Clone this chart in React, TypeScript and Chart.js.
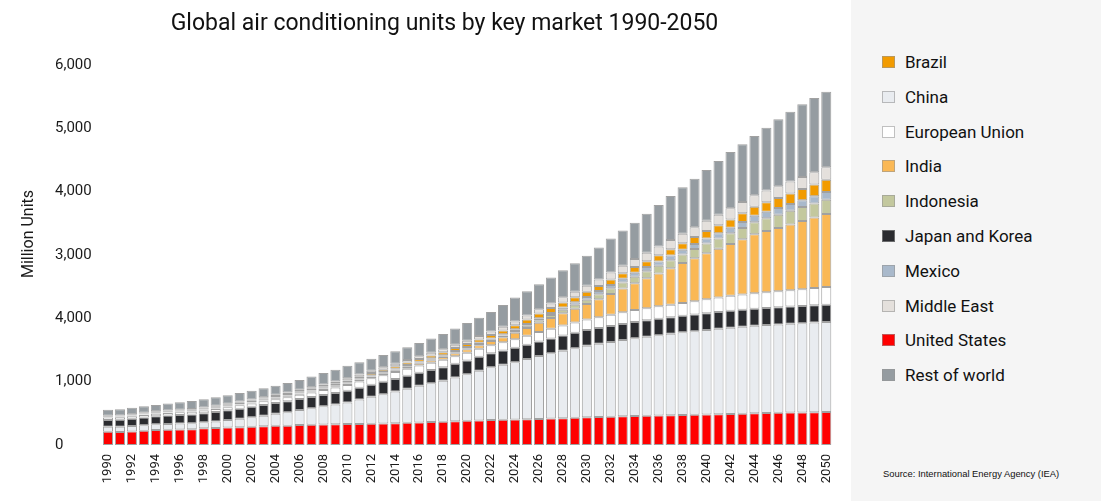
import React, { useEffect, useRef } from 'react';
import { Chart, registerables } from 'chart.js';

Chart.register(...registerables);

const chartTitle = 'Global air conditioning units by key market 1990-2050';
const yAxisTitle = 'Million Units';
const sourceText = 'Source: International Energy Agency (IEA)';

const years = [
  '1990', '1991', '1992', '1993', '1994', '1995', '1996', '1997', '1998', '1999',
  '2000', '2001', '2002', '2003', '2004', '2005', '2006', '2007', '2008', '2009',
  '2010', '2011', '2012', '2013', '2014', '2015', '2016', '2017', '2018', '2019',
  '2020', '2021', '2022', '2023', '2024', '2025', '2026', '2027', '2028', '2029',
  '2030', '2031', '2032', '2033', '2034', '2035', '2036', '2037', '2038', '2039',
  '2040', '2041', '2042', '2043', '2044', '2045', '2046', '2047', '2048', '2049',
  '2050',
];

const yTickLabels = ['0', '1,000', '4,000', '3,000', '4,000', '5,000', '6,000'];

const unitedStates = [
  210, 205, 215, 225, 237, 240, 245, 250, 264, 268,
  275, 282, 289, 295, 302, 305, 316, 318, 322, 326,
  330, 333, 337, 340, 343, 350, 356, 362, 368, 375,
  382, 388, 395, 398, 402, 406, 411, 418, 424, 430,
  437, 442, 447, 452, 458, 462, 466, 470, 474, 478,
  482, 486, 490, 495, 500, 505, 510, 512, 515, 518,
  520,
];
const china = [
  80, 82, 85, 88, 90, 92, 93, 94, 95, 105,
  118, 132, 148, 168, 190, 212, 237, 262, 288, 315,
  343, 385, 426, 463, 500, 540, 578, 612, 645, 690,
  735, 785, 832, 868, 905, 950, 995, 1030, 1065, 1098,
  1130, 1155, 1180, 1204, 1227, 1248, 1268, 1288, 1306, 1320,
  1334, 1348, 1362, 1372, 1382, 1388, 1394, 1402, 1408, 1415,
  1422,
];
const japanKorea = [
  105, 110, 115, 122, 128, 132, 135, 138, 142, 148,
  155, 160, 165, 168, 170, 172, 174, 176, 178, 180,
  183, 186, 190, 194, 198, 202, 206, 210, 214, 217,
  219, 221, 223, 225, 227, 228, 230, 235, 240, 244,
  248, 250, 252, 255, 257, 258, 259, 260, 262, 263,
  264, 265, 266, 267, 268, 269, 270, 271, 272, 273,
  274,
];
const europeanUnion = [
  40, 40, 40, 40, 40, 42, 43, 44, 45, 48,
  50, 52, 55, 58, 62, 65, 68, 74, 80, 87,
  93, 98, 102, 106, 110, 112, 114, 116, 118, 120,
  122, 124, 126, 131, 137, 142, 148, 152, 157, 161,
  165, 171, 177, 184, 190, 193, 196, 198, 200, 210,
  220, 230, 240, 244, 248, 250, 252, 258, 264, 271,
  279,
];
const india = [
  3, 3, 4, 4, 5, 5, 6, 6, 7, 8,
  9, 10, 11, 12, 13, 14, 15, 16, 18, 20,
  22, 24, 26, 28, 30, 33, 36, 40, 44, 48,
  52, 58, 65, 80, 100, 122, 145, 170, 195, 220,
  245, 285, 330, 375, 420, 470, 520, 575, 630, 678,
  726, 770, 816, 870, 930, 968, 1001, 1040, 1078, 1115,
  1153,
];
const indonesia = [
  2, 2, 2, 2, 3, 3, 3, 3, 4, 4,
  4, 5, 5, 5, 6, 6, 6, 7, 7, 8,
  8, 9, 9, 10, 10, 11, 12, 13, 14, 16,
  18, 20, 22, 26, 30, 35, 40, 47, 55, 62,
  70, 79, 88, 96, 105, 112, 120, 128, 135, 145,
  155, 162, 170, 180, 190, 200, 210, 215, 220, 223,
  226,
];
const mexico = [
  4, 4, 4, 5, 5, 5, 5, 6, 6, 6,
  7, 7, 7, 8, 8, 8, 9, 9, 10, 10,
  11, 11, 12, 12, 13, 14, 14, 15, 16, 17,
  18, 19, 20, 22, 25, 28, 31, 34, 37, 40,
  43, 48, 53, 58, 63, 66, 69, 72, 75, 78,
  81, 84, 88, 94, 100, 102, 104, 106, 108, 114,
  121,
];
const brazil = [
  8, 9, 10, 11, 12, 13, 14, 15, 16, 17,
  18, 19, 20, 21, 22, 23, 24, 25, 26, 28,
  30, 32, 34, 36, 38, 40, 42, 44, 46, 48,
  50, 52, 54, 59, 64, 69, 75, 76, 77, 78,
  80, 82, 85, 87, 90, 94, 97, 101, 105, 111,
  117, 123, 130, 137, 144, 152, 160, 168, 177, 186,
  195,
];
const middleEast = [
  10, 10, 11, 11, 12, 12, 13, 14, 15, 16,
  17, 18, 19, 20, 22, 23, 25, 26, 28, 30,
  32, 34, 36, 38, 40, 42, 44, 46, 48, 50,
  52, 53, 55, 58, 61, 64, 67, 74, 81, 88,
  95, 103, 110, 118, 125, 131, 138, 144, 150, 156,
  162, 168, 175, 178, 180, 183, 185, 188, 190, 193,
  195,
];
const restOfWorld = [
  93, 100, 104, 102, 100, 111, 118, 125, 128, 132,
  132, 135, 138, 140, 140, 150, 152, 167, 178, 186,
  198, 193, 188, 193, 198, 201, 208, 222, 239, 259,
  279, 290, 308, 343, 379, 385, 395, 410, 430, 450,
  475, 505, 538, 556, 575, 616, 657, 694, 733, 766,
  801, 849, 890, 913, 937, 993, 1059, 1100, 1148, 1172,
  1192,
];

// stack order, bottom to top
const seriesNames = [
  'United States', 'China', 'Japan and Korea', 'European Union', 'India',
  'Indonesia', 'Mexico', 'Brazil', 'Middle East', 'Rest of world',
];
const seriesData = [
  unitedStates, china, japanKorea, europeanUnion, india,
  indonesia, mexico, brazil, middleEast, restOfWorld,
];
const seriesColors = [
  '#ff0000', '#e9ecf0', '#2a2b2f', '#ffffff', '#fab855',
  '#c3c89e', '#a9b9cb', '#f29b00', '#e4e0dc', '#959ca1',
];

const legendOrder = [
  'Brazil', 'China', 'European Union', 'India', 'Indonesia',
  'Japan and Korea', 'Mexico', 'Middle East', 'United States', 'Rest of world',
];

const FONT = 'Roboto, "Liberation Sans", sans-serif';

const yTitlePlugin = {
  id: 'yTitleCustom',
  afterDraw(chart: any) {
    const ctx = chart.ctx;
    ctx.save();
    ctx.translate(29, 234);
    ctx.rotate(-Math.PI / 2);
    ctx.font = '16px ' + FONT;
    ctx.fillStyle = '#1a1a1a';
    ctx.textAlign = 'center';
    ctx.textBaseline = 'middle';
    ctx.fillText(yAxisTitle, 0, 0);
    ctx.restore();
  },
};

export default function App() {
  const canvasRef = useRef<HTMLCanvasElement | null>(null);

  useEffect(() => {
    if (!canvasRef.current) return;
    const chart = new Chart(canvasRef.current, {
      type: 'bar',
      data: {
        labels: years,
        datasets: seriesNames.map((name, i) => ({
          label: name,
          data: seriesData[i],
          backgroundColor: seriesColors[i],
          borderColor: 'rgba(130,130,130,0.75)',
          borderWidth: 1,
          borderSkipped: false,
          categoryPercentage: 1,
          barPercentage: 0.84,
          stack: 'total',
        })),
      },
      options: {
        responsive: false,
        animation: false,
        devicePixelRatio: 1,
        layout: { padding: { left: 55, right: 17, top: 0, bottom: 0 } },
        plugins: {
          legend: { display: false },
          tooltip: { enabled: false },
          title: {
            display: true,
            text: chartTitle,
            color: '#111',
            font: { family: FONT, size: 23, weight: 'normal' },
            padding: { top: 10.2, bottom: 27.2 },
          },
        },
        scales: {
          x: {
            stacked: true,
            grid: { display: false, drawTicks: false },
            border: { display: false },
            ticks: {
              autoSkip: false,
              maxRotation: 90,
              minRotation: 90,
              padding: 9,
              color: '#1a1a1a',
              font: { family: FONT, size: 13 },
              callback: (_v: any, idx: number) => (idx % 2 === 0 ? years[idx] : ''),
            },
            afterFit: (scale: any) => {
              scale.height = 56;
            },
          },
          y: {
            stacked: true,
            min: 0,
            max: 6000,
            grid: { display: false, drawTicks: false },
            border: { display: false },
            ticks: {
              stepSize: 1000,
              crossAlign: 'far',
              padding: 0,
              color: '#1a1a1a',
              font: { family: FONT, size: 15 },
              callback: (v: any) => yTickLabels[Math.round(Number(v) / 1000)],
            },
            afterFit: (scale: any) => {
              scale.width = 47;
            },
          },
        },
      },
      plugins: [yTitlePlugin],
    } as any);
    return () => chart.destroy();
  }, []);

  const colorOf = (name: string) => seriesColors[seriesNames.indexOf(name)];

  return (
    <div
      style={{
        position: 'fixed',
        left: 0,
        top: 0,
        width: 1101,
        height: 501,
        background: '#ffffff',
        overflow: 'hidden',
      }}
    >
      <canvas
        ref={canvasRef}
        width={851}
        height={501}
        style={{ position: 'absolute', left: 0, top: 0, width: 851, height: 501 }}
      />
      <div
        style={{
          position: 'absolute',
          left: 851,
          top: 0,
          width: 250,
          height: 501,
          background: '#f5f5f5',
          fontFamily: FONT,
        }}
      >
        <div style={{ position: 'absolute', left: 31, top: 44.6 }}>
          {legendOrder.map((name) => (
            <div
              key={name}
              style={{ height: 34.8, display: 'flex', alignItems: 'center' }}
            >
              <span
                style={{
                  display: 'inline-block',
                  width: 13,
                  height: 12,
                  boxSizing: 'border-box',
                  background: colorOf(name),
                  border: '1px solid rgba(150,150,150,0.6)',
                  marginRight: 10,
                }}
              />
              <span style={{ fontSize: 17, color: '#111', lineHeight: '20px' }}>{name}</span>
            </div>
          ))}
        </div>
        <div
          style={{
            position: 'absolute',
            left: 32,
            top: 468,
            fontFamily: '"Liberation Sans", Arial, sans-serif',
            fontSize: 9.4,
            lineHeight: '12px',
            color: '#111',
            whiteSpace: 'nowrap',
          }}
        >
          {sourceText}
        </div>
      </div>
    </div>
  );
}
